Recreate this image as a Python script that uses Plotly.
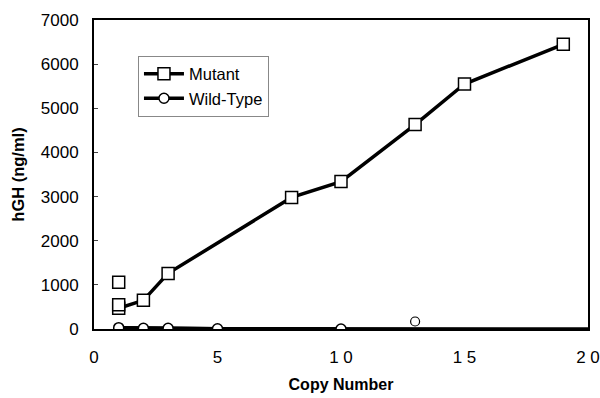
import plotly.graph_objects as go

# Mutant series (connected)
mutant_x = [1, 2, 3, 8, 10, 13, 15, 19]
mutant_y = [470, 650, 1260, 2980, 3340, 4630, 5550, 6450]
# Mutant replicate points (unconnected)
mutant_extra_x = [1, 1]
mutant_extra_y = [1060, 550]

# Wild-type series (connected)
wt_x = [1, 2, 3, 5, 10]
wt_y = [30, 15, 15, 5, 0]
# Wild-type unconnected point
wt_extra_x = [13]
wt_extra_y = [170]

x_tickvals = [0, 5, 10, 15, 20]
x_ticktext = ["0", "5", "1 0", "1 5", "2 0"]
y_tickvals = [0, 1000, 2000, 3000, 4000, 5000, 6000, 7000]

font_family = "Liberation Sans, Arial, sans-serif"

fig = go.Figure()

fig.add_trace(go.Scatter(
    x=wt_x + [20], y=wt_y + [0], mode="lines",
    line=dict(color="black", width=3.5), showlegend=False, hoverinfo="skip"))
fig.add_trace(go.Scatter(
    x=wt_x, y=wt_y, mode="lines+markers", name="Wild-Type",
    line=dict(color="black", width=3.5),
    marker=dict(symbol="circle", size=10, color="white",
                line=dict(color="black", width=1.5))))
fig.add_trace(go.Scatter(
    x=wt_extra_x, y=wt_extra_y, mode="markers", showlegend=False,
    marker=dict(symbol="circle", size=9, color="white",
                line=dict(color="black", width=1.2))))
fig.add_trace(go.Scatter(
    x=mutant_x, y=mutant_y, mode="lines+markers", name="Mutant",
    line=dict(color="black", width=3.5),
    marker=dict(symbol="square", size=12, color="white",
                line=dict(color="black", width=1.5))))
fig.add_trace(go.Scatter(
    x=mutant_extra_x, y=mutant_extra_y, mode="markers", showlegend=False,
    marker=dict(symbol="square", size=12, color="white",
                line=dict(color="black", width=1.5))))

fig.update_layout(
    width=600, height=398,
    margin=dict(l=94, r=12, t=20, b=69),
    paper_bgcolor="white", plot_bgcolor="white",
    font=dict(family=font_family, color="black", size=17),
    legend=dict(
        x=0.089, y=0.885, xanchor="left", yanchor="top",
        bordercolor="#888888", borderwidth=1, bgcolor="white",
        font=dict(size=16.5), traceorder="reversed",
        itemwidth=40, tracegroupgap=0),
    xaxis=dict(
        range=[0, 20], tickvals=x_tickvals, ticktext=x_ticktext,
        automargin=False,
        showgrid=False, zeroline=False, showline=True, linecolor="black",
        linewidth=1.5, mirror=True, ticks="", ticklabelstandoff=12,
        title=dict(text="<b>Copy Number</b>", font=dict(size=16), standoff=13)),
    yaxis=dict(
        range=[0, 7000], tickvals=y_tickvals, automargin=False,
        showgrid=False, zeroline=False, showline=True, linecolor="black",
        linewidth=2, mirror=True, ticks="inside", ticklen=4,
        ticklabelstandoff=10,
        title=dict(text="<b>hGH (ng/ml)</b>", font=dict(size=16.5), standoff=12)),
)

fig.write_html("out.html", config={"displayModeBar": False},
               post_script="document.body.style.margin='0';document.body.style.overflow='hidden';")
